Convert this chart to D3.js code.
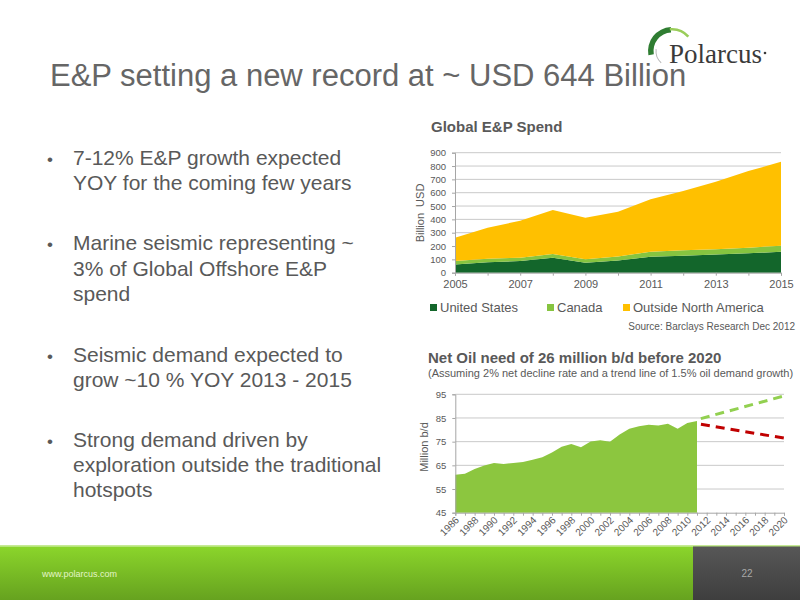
<!DOCTYPE html>
<html><head><meta charset="utf-8">
<script src="https://cdn.jsdelivr.net/npm/d3@7"></script>
<style>
body{margin:0;background:#fff;}
text{font-family:"Liberation Sans",Arial,sans-serif;}
</style>
</head><body>
<svg id="c" width="800" height="600"></svg>
<script>
// ---------- data ----------
const spendYears = [2005,2006,2007,2008,2009,2010,2011,2012,2013,2014,2015];
const usSpend      = [62, 78, 88,112, 75, 92,120,128,137,145,157];
const canadaSpend  = [25, 27, 25, 28, 25, 30, 37, 40, 38, 43, 45];
const outsideSpend = [175,232,277,330,312,335,393,444,507,574,630];
const spendSeries = ["United States","Canada","Outside North America"];
const spendTicks = [0,100,200,300,400,500,600,700,800,900];
const spendYearLabels = [2005,2007,2009,2011,2013,2015];

const oilYears = [1986,1987,1988,1989,1990,1991,1992,1993,1994,1995,1996,1997,1998,1999,2000,2001,2002,2003,2004,2005,2006,2007,2008,2009,2010,2011];
const oilDemand = [61,61.5,63.5,64.9,66,65.6,66,66.4,67.4,68.4,70.4,72.9,74,72.6,75.1,75.6,75,78,80.4,81.5,82.1,81.8,82.6,80.4,82.9,83.7];
const projYears = [2011,2020];
const demandTrend = [84.3,94.3];
const declineTrend = [82.6,76.5];
const oilAxisYears = d3.range(1986,2021);
const oilYearLabels = d3.range(1986,2021,2);
const oilTicks = [45,55,65,75,85,95];

const bullets = [
  ["7-12% E&P growth expected","YOY for the coming few years"],
  ["Marine seismic representing ~","3% of Global Offshore E&P","spend"],
  ["Seismic demand expected to","grow ~10 % YOY 2013 - 2015"],
  ["Strong demand driven by","exploration outside the traditional","hotspots"]
];
const bulletBaselines = [[165,190],[250,276,301],[362,387],[447,472,497]];

const colors = {us:"#13662B", ca:"#86C440", out:"#FFC000", oil:"#8CC63F", up:"#92D050", down:"#C00000", text:"#595959", grid:"#c9c9c9", axis:"#a6a6a6"};

const svg = d3.select("#c");
const defs = svg.append("defs");

// ---------- title ----------
svg.append("text").attr("x",50).attr("y",86).attr("font-size",31).attr("fill","#666")
  .text("E&P setting a new record at ~ USD 644 Billion");

// ---------- logo ----------
const logo = svg.append("g").attr("transform","translate(672,51)");
logo.append("path").attr("d", d3.arc()({innerRadius:18.5,outerRadius:24,startAngle:-1.75,endAngle:-0.05})).attr("fill","#2F7D32");
logo.append("path").attr("d", d3.arc()({innerRadius:20.5,outerRadius:23,startAngle:-0.1,endAngle:0.85})).attr("fill","#9ACD5A");
logo.append("path").attr("d", d3.arc()({innerRadius:15.5,outerRadius:16.5,startAngle:-2.4,endAngle:-1.45})).attr("fill","#b5b5b5");
svg.append("text").attr("x",669).attr("y",63).attr("font-size",27).attr("fill","#3a3a3a")
  .style("font-family","'Liberation Serif','Times New Roman',serif").text("Polarcus");
svg.append("circle").attr("cx",765).attr("cy",53).attr("r",1.3).attr("fill","#3a3a3a");

// ---------- bullets ----------
bullets.forEach((lines,i)=>{
  svg.append("text").attr("x",47).attr("y",bulletBaselines[i][0]).attr("font-size",17).attr("fill",colors.text).text("•");
  lines.forEach((l,j)=>{
    svg.append("text").attr("x",73).attr("y",bulletBaselines[i][j]).attr("font-size",21).attr("fill",colors.text).text(l);
  });
});

// ---------- chart 1: Global E&P Spend ----------
const x1 = d3.scalePoint().domain(spendYears).range([455,781]);
const y1 = d3.scaleLinear().domain([0,900]).range([272.7,152.7]);
svg.append("text").attr("x",431).attr("y",132).attr("font-size",15).attr("font-weight","bold").attr("fill",colors.text).text("Global E&P Spend");

const g1 = svg.append("g");
g1.selectAll("line.grid").data(spendTicks.slice(1)).join("line")
  .attr("x1",455).attr("x2",781).attr("y1",d=>y1(d)).attr("y2",d=>y1(d))
  .attr("stroke",colors.grid).attr("stroke-width",1);

const rows = spendYears.map((yr,i)=>({year:yr, "United States":usSpend[i], "Canada":canadaSpend[i], "Outside North America":outsideSpend[i]}));
const stacked = d3.stack().keys(spendSeries)(rows);
const areaColors = [colors.us, colors.ca, colors.out];
const area1 = d3.area().x(d=>x1(d.data.year)).y0(d=>y1(d[0])).y1(d=>y1(d[1]));
g1.selectAll("path.layer").data(stacked).join("path").attr("d",area1).attr("fill",(d,i)=>areaColors[i]);

const ax1 = g1.append("g").attr("transform","translate(455,0)")
  .call(d3.axisLeft(y1).tickValues(spendTicks).tickSize(3).tickPadding(6));
ax1.selectAll("text").attr("font-size",9.5).attr("fill",colors.text).style("font-family","'Liberation Sans Narrow','Liberation Sans',sans-serif");
const bx1 = g1.append("g").attr("transform","translate(0,272.7)")
  .call(d3.axisBottom(x1).tickSize(3).tickPadding(5).tickFormat(d=>spendYearLabels.includes(d)?d:""));
bx1.selectAll("text").attr("font-size",11).attr("fill",colors.text);
[ax1,bx1].forEach(a=>{a.selectAll("path,line").attr("stroke",colors.axis);});

svg.append("text").attr("transform","translate(424,213) rotate(-90)").attr("text-anchor","middle")
  .attr("font-size",11).attr("fill",colors.text).attr("xml:space","preserve").text("Billion  USD");

// legend
const legendX = [430,547,623];
spendSeries.forEach((s,i)=>{
  svg.append("rect").attr("x",legendX[i]).attr("y",304).attr("width",7).attr("height",7).attr("fill",areaColors[i]);
  svg.append("text").attr("x",legendX[i]+10).attr("y",312).attr("font-size",13).attr("fill",colors.text).text(s);
});
svg.append("text").attr("x",795).attr("y",330).attr("text-anchor","end").attr("font-size",10).attr("fill",colors.text)
  .text("Source: Barclays Research Dec 2012");

// ---------- chart 2: Net Oil need ----------
const x2 = d3.scalePoint().domain(oilAxisYears).range([455.3,784]);
const y2 = d3.scaleLinear().domain([45,95]).range([512.7,394.3]);
svg.append("text").attr("x",428).attr("y",363).attr("font-size",15).attr("font-weight","bold").attr("fill",colors.text)
  .text("Net Oil need of 26 million b/d before 2020");
svg.append("text").attr("x",428).attr("y",377).attr("font-size",11).attr("fill",colors.text)
  .text("(Assuming 2% net decline rate and a trend line of 1.5% oil demand growth)");

const g2 = svg.append("g");
g2.selectAll("line.grid").data(oilTicks.slice(1)).join("line")
  .attr("x1",455.3).attr("x2",784).attr("y1",d=>y2(d)).attr("y2",d=>y2(d))
  .attr("stroke",colors.grid).attr("stroke-width",1);
g2.append("path").datum(oilYears.map((yr,i)=>[yr,oilDemand[i]]))
  .attr("d", d3.area().x(d=>x2(d[0])).y0(y2(45)).y1(d=>y2(d[1])))
  .attr("fill",colors.oil);
const line2 = d3.line().x(d=>x2(d[0])).y(d=>y2(d[1]));
g2.append("path").datum(projYears.map((yr,i)=>[yr,demandTrend[i]])).attr("d",line2)
  .attr("fill","none").attr("stroke",colors.up).attr("stroke-width",3).attr("stroke-dasharray","9,6").attr("stroke-dashoffset",-4);
g2.append("path").datum(projYears.map((yr,i)=>[yr,declineTrend[i]])).attr("d",line2)
  .attr("fill","none").attr("stroke",colors.down).attr("stroke-width",3).attr("stroke-dasharray","9,6").attr("stroke-dashoffset",-4);

const ax2 = g2.append("g").attr("transform","translate(455.3,0)")
  .call(d3.axisLeft(y2).tickValues(oilTicks).tickSize(3).tickPadding(6));
ax2.selectAll("text").attr("font-size",9.5).attr("fill",colors.text).style("font-family","'Liberation Sans Narrow','Liberation Sans',sans-serif");
const bx2 = g2.append("g").attr("transform","translate(0,512.7)")
  .call(d3.axisBottom(x2).tickSize(3).tickFormat(d=>oilYearLabels.includes(d)?d:""));
bx2.selectAll("text").attr("font-size",10).attr("fill",colors.text)
  .attr("text-anchor","end").attr("dy",0).attr("y",0)
  .attr("transform","translate(4,8) rotate(-45)");
[ax2,bx2].forEach(a=>{a.selectAll("path,line").attr("stroke",colors.axis);});

svg.append("text").attr("transform","translate(428,447) rotate(-90)").attr("text-anchor","middle")
  .attr("font-size",11).attr("fill",colors.text).text("Million b/d");

// ---------- footer ----------
const gg = defs.append("linearGradient").attr("id","gfoot").attr("x1",0).attr("x2",0).attr("y1",0).attr("y2",1);
gg.append("stop").attr("offset","0%").attr("stop-color","#8BD52B");
gg.append("stop").attr("offset","100%").attr("stop-color","#66A21F");
const gd = defs.append("linearGradient").attr("id","gdark").attr("x1",0).attr("x2",0).attr("y1",0).attr("y2",1);
gd.append("stop").attr("offset","0%").attr("stop-color","#575757");
gd.append("stop").attr("offset","100%").attr("stop-color","#3e3e3e");
svg.append("rect").attr("x",0).attr("y",545).attr("width",800).attr("height",1.5).attr("fill","#c6ea95");
svg.append("rect").attr("x",0).attr("y",546.5).attr("width",800).attr("height",53.5).attr("fill","url(#gfoot)");
svg.append("rect").attr("x",693).attr("y",546.5).attr("width",107).attr("height",53.5).attr("fill","url(#gdark)");
svg.append("text").attr("x",42).attr("y",577).attr("font-size",9).attr("fill","#e4f5c8")
  .style("font-family","'Liberation Sans Narrow','Liberation Sans',sans-serif").text("www.polarcus.com");
svg.append("text").attr("x",747).attr("y",577).attr("text-anchor","middle").attr("font-size",10).attr("fill","#a8a8a8").text("22");
</script>
</body></html>
